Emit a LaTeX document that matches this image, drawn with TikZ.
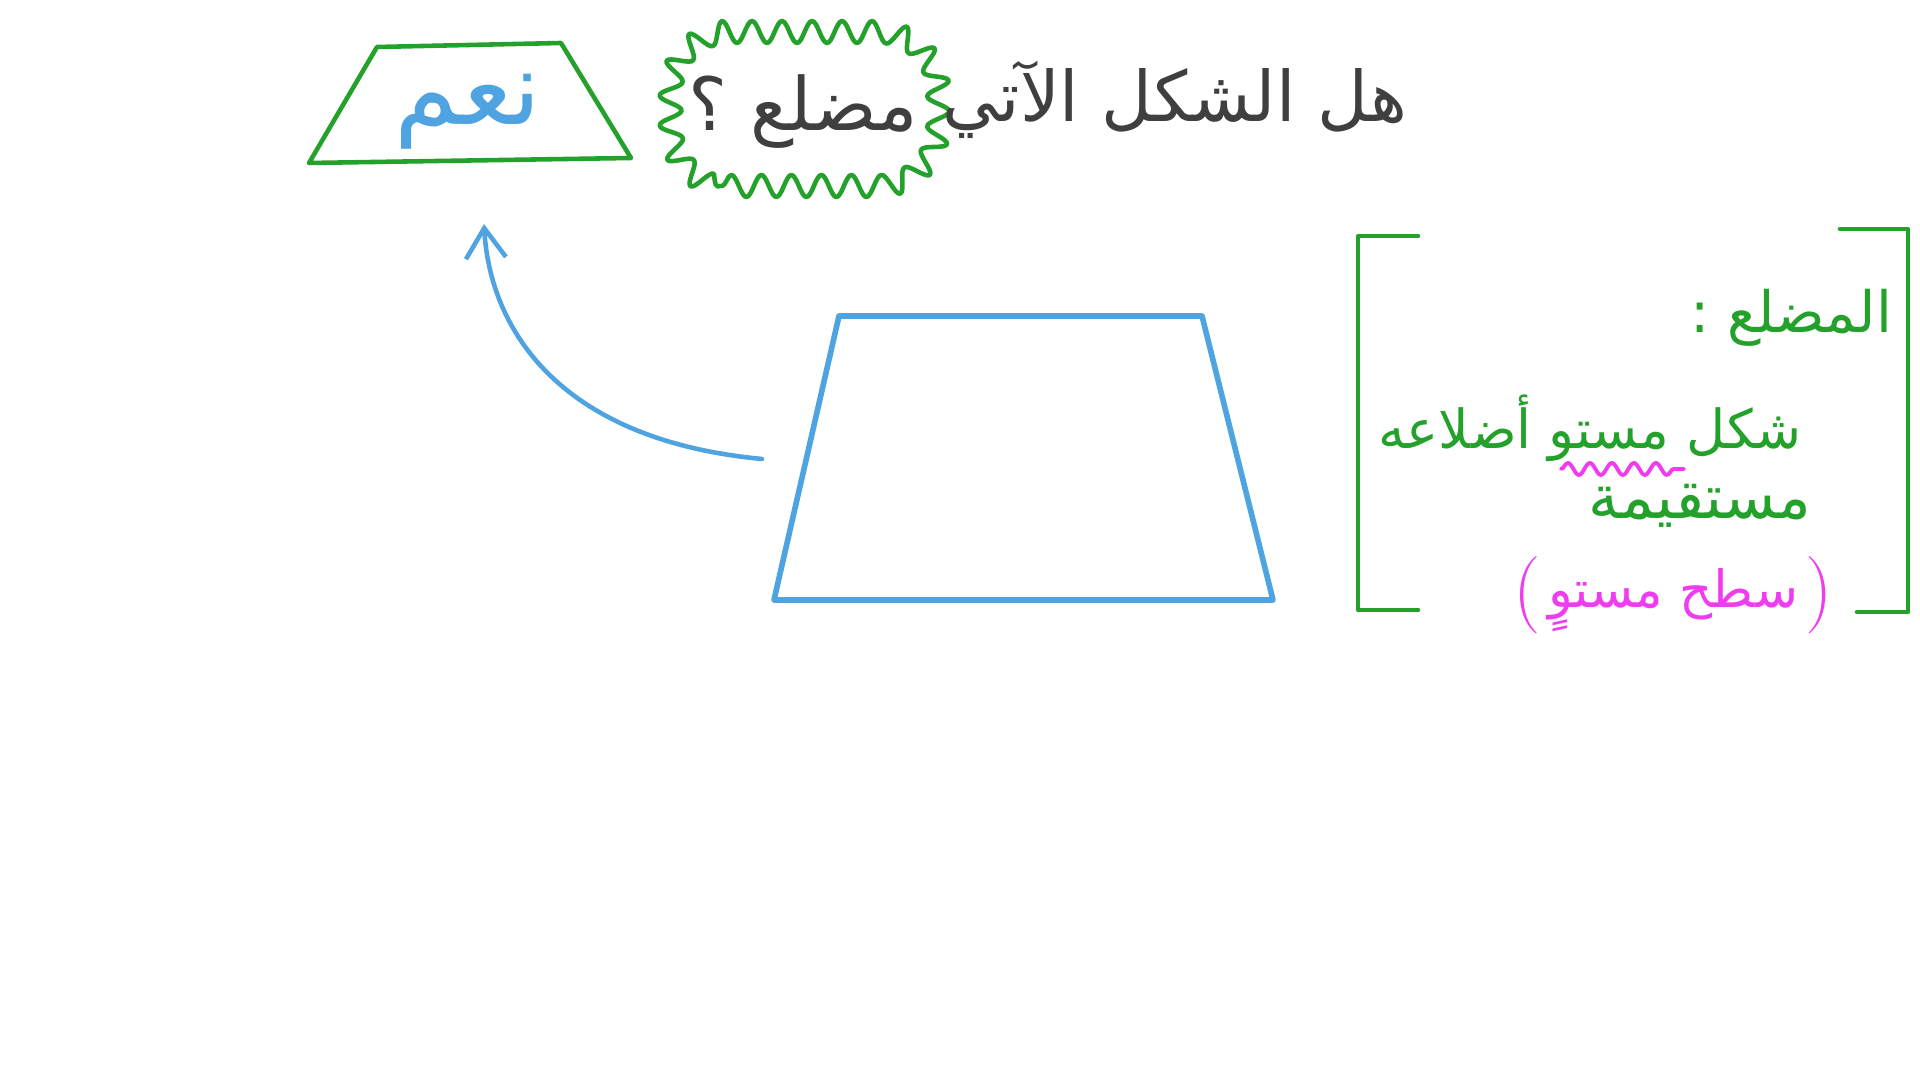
\documentclass[tikz,border=0pt]{standalone}
\usepackage{fontspec}
\usepackage{graphicx}
\usetikzlibrary{decorations.pathmorphing,arrows.meta}
\TeXXeTstate=1
\newfontfamily\arabicfont[Script=Arabic]{DejaVu Sans}
\definecolor{pgreen}{HTML}{23A12B}
\definecolor{pblue}{HTML}{4EA3E0}
\definecolor{pgray}{HTML}{3F3F3F}
\definecolor{pmag}{HTML}{F03CF0}
\tikzset{
  pen/.style={line width=1.3pt, line join=round, line cap=round},
  txt/.style={inner sep=0pt, font=\arabicfont},
}
\begin{document}
\begin{tikzpicture}
\useasboundingbox (0,0) rectangle (19.2,10.8);
% small green trapezoid with answer
\coordinate (s1) at (3.09,9.17);
\coordinate (s2) at (3.77,10.33);
\coordinate (s3) at (5.61,10.37);
\coordinate (s4) at (6.31,9.22);
\draw[pen, pgreen] (s1) -- (s2) -- (s3) -- (s4) -- cycle;
\node[txt, text=pblue] (yes) at (4.68,9.68) {\resizebox{1.47cm}{!}{\beginR نعم\endR}};
% wavy bubble
\draw[pen, pgreen, decorate, decoration={snake, amplitude=1.1mm, segment length=3mm}]
  (7.22,8.94) -- (8.70,8.94) arc[start angle=-90, end angle=0, radius=0.6]
  -- (9.30,9.89) arc[start angle=0, end angle=90, radius=0.6]
  -- (7.22,10.49) arc[start angle=90, end angle=180, radius=0.6]
  -- (6.62,9.54) arc[start angle=180, end angle=268, radius=0.6];
\node[txt, text=pgray] (q) at (8.03,9.68) {\resizebox{2.29cm}{!}{\beginR مضلع ؟\endR}};
\node[txt, text=pgray] (head) at (11.75,9.80) {\resizebox{4.65cm}{!}{\beginR هل الشكل الآتي\endR}};
% big blue trapezoid
\coordinate (b1) at (7.74,4.80);
\coordinate (b2) at (8.39,7.64);
\coordinate (b3) at (12.02,7.64);
\coordinate (b4) at (12.73,4.80);
\draw[pen, pblue, line width=1.6pt] (b1) -- (b2) -- (b3) -- (b4) -- cycle;
% arrow
\coordinate (aS) at (7.62,6.21);
\coordinate (aE) at (4.84,8.56);
\draw[pen, pblue, -{Straight Barb[length=3mm,width=4mm]}] (aS) .. controls (5.6,6.4) and (4.9,7.5) .. (aE);
% brackets
\draw[pen, pgreen] (14.18,8.44) -- (13.58,8.44) -- (13.58,4.70) -- (14.18,4.70);
\draw[pen, pgreen] (18.40,8.51) -- (19.08,8.51) -- (19.08,4.68) -- (18.57,4.68);
% definition
\node[txt, text=pgreen] (def) at (17.91,7.62) {\resizebox{2.02cm}{!}{\beginR المضلع :\endR}};
\node[txt, text=pgreen] (l2) at (15.90,6.52) {\resizebox{4.24cm}{!}{\beginR شكل مستو أضلاعه\endR}};
\node[txt, text=pgreen] (l3) at (17.00,5.74) {\resizebox{2.23cm}{!}{\beginR مستقيمة\endR}};
\draw[pen, pmag, line width=1.1pt, decorate, decoration={snake, amplitude=0.6mm, segment length=2.2mm}] (15.61,6.11) -- (16.84,6.11);
\node[txt, text=pmag] (l4) at (16.73,4.80) {\resizebox{2.5cm}{!}{\beginR سطح مستوٍ\endR}};
\node[inner sep=0pt, text=pmag, font=\fontsize{22}{22}\selectfont] (pl) at ([xshift=-2mm,yshift=0.5mm]l4.west) {(};
\node[inner sep=0pt, text=pmag, font=\fontsize{22}{22}\selectfont] (pr) at ([xshift=2mm,yshift=0.5mm]l4.east) {)};
\end{tikzpicture}
\end{document}
